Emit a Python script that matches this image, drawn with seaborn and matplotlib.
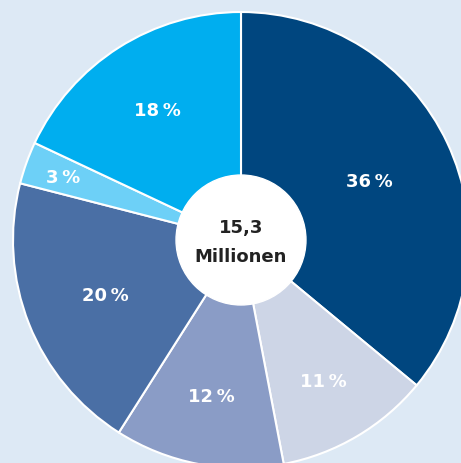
import numpy as np
import matplotlib.pyplot as plt
import seaborn as sns

# share of 15,3 million, clockwise from 12 o'clock
shares = [36, 11, 12, 20, 3, 18]
labels = ['36%', '11%', '12%', '20%', '3%', '18%']
colours = ['#00467f', '#cdd5e6', '#8a9cc6', '#4a6fa5', '#6dd0f7', '#00aeef']
centre_text = '15,3\nMillionen'

sns.set_style('white')
plt.rcParams['font.family'] = ['DejaVu Sans']
palette = sns.color_palette(colours)

fig = plt.figure(figsize=(4.61, 4.64), dpi=100)
fig.patch.set_facecolor('#dde9f5')
ax = fig.add_axes([0, 0, 1, 1])
ax.set_facecolor('#dde9f5')

wedges, texts = ax.pie(
    shares, colors=palette, startangle=90, counterclock=False,
    wedgeprops=dict(edgecolor='white', linewidth=1.5))

# label distance per slice (small slice sits further out)
dist = [0.62, 0.71, 0.69, 0.64, 0.83, 0.68]
for w, lab, d in zip(wedges, labels, dist):
    mid = np.deg2rad((w.theta1 + w.theta2) / 2)
    ax.text(d * np.cos(mid), d * np.sin(mid) - 0.006, lab.replace('%', '\u2009%'),
            color='white', fontsize=13, fontweight='bold',
            ha='center', va='center')

ax.add_patch(plt.Circle((0, 0), 0.285, color='white', zorder=3))
ax.text(0, -0.007, centre_text, ha='center', va='center', fontsize=13,
        fontweight='bold', color='#222222', linespacing=1.8, zorder=4)

ax.set_aspect('auto')
ax.set_xlim(-241 / 228, 220 / 228)
ax.set_ylim(-223 / 228, 241 / 228)
ax.axis('off')

fig.savefig('out.png', dpi=100, facecolor=fig.get_facecolor())
